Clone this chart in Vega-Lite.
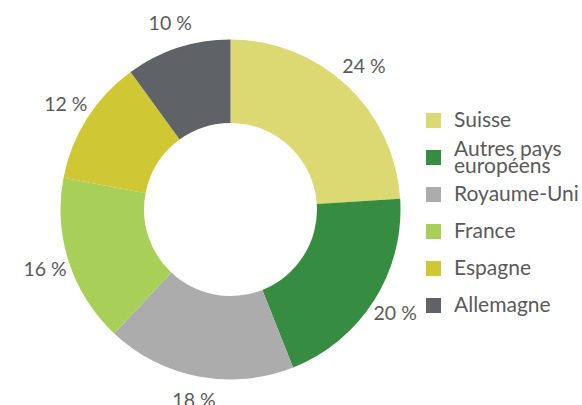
{
  "$schema": "https://vega.github.io/schema/vega-lite/v6.json",
  "width": 461,
  "height": 419,
  "padding": 0,
  "background": "white",
  "config": {"view": {"stroke": null}, "font": "Lato"},
  "data": {"values": [
    {"pays": "Suisse", "part": 24, "ordre": 1, "label": "24 %"},
    {"pays": "Autres pays européens", "part": 20, "ordre": 2, "label": "20 %"},
    {"pays": "Royaume-Uni", "part": 18, "ordre": 3, "label": "18 %"},
    {"pays": "France", "part": 16, "ordre": 4, "label": "16 %"},
    {"pays": "Espagne", "part": 12, "ordre": 5, "label": "12 %"},
    {"pays": "Allemagne", "part": 10, "ordre": 6, "label": "10 %"}
  ]},
  "encoding": {
    "theta": {"field": "part", "type": "quantitative", "stack": true},
    "order": {"field": "ordre", "type": "quantitative"}
  },
  "layer": [
    {
      "mark": {"type": "arc", "outerRadius": 170, "innerRadius": 86.5},
      "encoding": {
        "color": {
          "field": "pays",
          "type": "nominal",
          "scale": {
            "domain": ["Suisse", "Autres pays européens", "Royaume-Uni", "France", "Espagne", "Allemagne"],
            "range": ["#dcd872", "#368d41", "#abacab", "#a8cf58", "#cfc834", "#5f6266"]
          },
          "legend": {
            "title": null,
            "orient": "none",
            "legendX": 423,
            "legendY": 110,
            "columns": 1,
            "gridAlign": "all",
            "symbolType": "square",
            "symbolSize": 225,
            "symbolStrokeWidth": 0,
            "labelFont": "Lato",
            "labelFontSize": 21,
            "labelColor": "#5a5a5a",
            "labelOffset": 10,
            "labelLimit": 200,
            "rowPadding": -2,
            "labelExpr": "datum.label == 'Autres pays européens' ? ['Autres pays', 'européens'] : datum.label",
            "encode": {"labels": {"update": {
              "lineHeight": {"value": 17},
              "dy": {"signal": "datum.label == 'Autres pays européens' ? -8 : 0"}
            }}}
          }
        }
      }
    },
    {
      "mark": {"type": "text", "radius": 195, "font": "Lato", "fontSize": 19.5, "color": "#5a5a5a"},
      "encoding": {"text": {"field": "label"}}
    }
  ]
}
